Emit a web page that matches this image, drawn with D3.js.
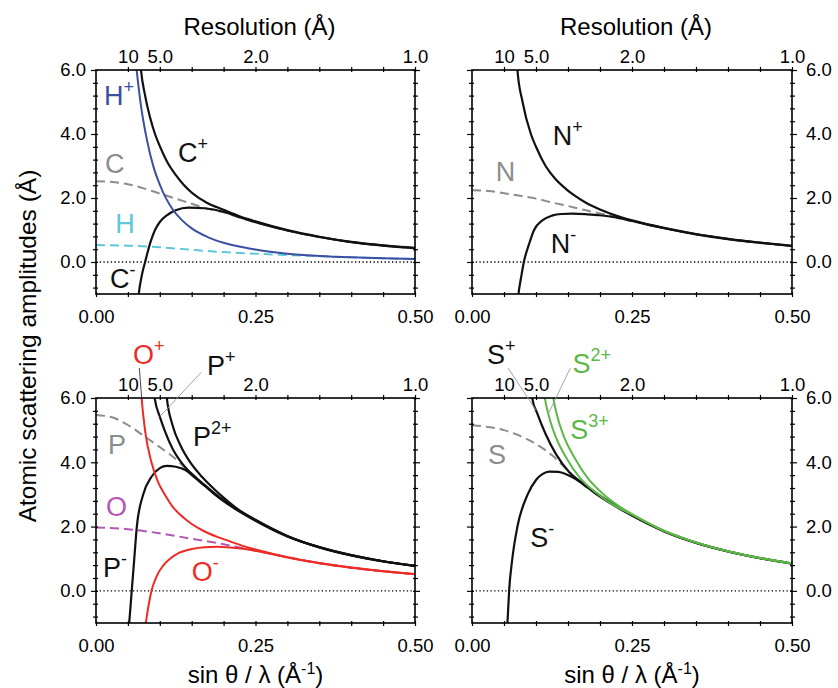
<!DOCTYPE html>
<html>
<head>
<meta charset="utf-8">
<script src="https://cdn.jsdelivr.net/npm/d3@7"></script>
<style>
body{margin:0;background:#fff;}
svg{display:block;font-family:"Liberation Sans",Arial,Helvetica,sans-serif;}
</style>
</head>
<body>
<script>
// ---- values: [sin(theta)/lambda, amplitude] ----
var H_neu = [[0,0.53],[0.05,0.51],[0.1,0.46],[0.15,0.38],[0.2,0.31],[0.25,0.26],[0.3,0.22],[0.35,0.18],[0.4,0.145],[0.45,0.115],[0.5,0.095]];
var H_plus = [[0.06,6.7],[0.0637,6.0],[0.07,4.95],[0.08,3.8],[0.09,2.98],[0.1,2.42],[0.11,1.98],[0.12,1.65],[0.135,1.3],[0.15,1.05],[0.175,0.78],[0.2,0.6],[0.25,0.39],[0.3,0.26],[0.35,0.19],[0.4,0.145],[0.45,0.115],[0.5,0.095]];
var C_neu = [[0,2.52],[0.025,2.5],[0.05,2.43],[0.075,2.3],[0.1,2.14],[0.125,1.98],[0.15,1.82],[0.175,1.66],[0.2,1.55],[0.225,1.39],[0.25,1.24],[0.3,0.98],[0.35,0.78],[0.4,0.62],[0.45,0.51],[0.5,0.43]];
var C_plus = [[0.068,6.6],[0.0705,6.0],[0.077,5.2],[0.085,4.5],[0.0925,4.0],[0.1,3.62],[0.111,3.15],[0.125,2.72],[0.137,2.42],[0.15,2.17],[0.173,1.86],[0.2,1.63],[0.225,1.43],[0.25,1.27],[0.3,0.995],[0.35,0.79],[0.4,0.63],[0.45,0.52],[0.5,0.44]];
var C_minus = [[0.0655,-1.3],[0.067,-1.0],[0.072,-0.4],[0.077,0.0],[0.085,0.6],[0.0925,1.0],[0.1,1.25],[0.111,1.46],[0.125,1.62],[0.145,1.7],[0.17,1.68],[0.2,1.57],[0.225,1.4],[0.25,1.245],[0.3,0.985],[0.35,0.78],[0.4,0.62],[0.45,0.51],[0.5,0.43]];

var N_neu = [[0,2.24],[0.025,2.22],[0.05,2.15],[0.075,2.07],[0.1,1.98],[0.125,1.86],[0.15,1.75],[0.175,1.63],[0.2,1.52],[0.225,1.42],[0.25,1.29],[0.3,1.06],[0.35,0.87],[0.4,0.72],[0.45,0.6],[0.5,0.5]];
var N_plus = [[0.069,6.6],[0.071,6.0],[0.079,5.0],[0.092,4.0],[0.1,3.6],[0.115,3.0],[0.13,2.6],[0.147,2.28],[0.16,2.08],[0.178,1.85],[0.2,1.64],[0.225,1.45],[0.25,1.3],[0.3,1.065],[0.35,0.875],[0.4,0.725],[0.45,0.605],[0.5,0.505]];
var N_minus = [[0.071,-1.3],[0.0726,-1.0],[0.077,-0.45],[0.081,0.0],[0.089,0.55],[0.097,1.0],[0.11,1.3],[0.125,1.45],[0.14,1.5],[0.157,1.51],[0.18,1.49],[0.2,1.46],[0.225,1.39],[0.25,1.28],[0.3,1.055],[0.35,0.865],[0.4,0.715],[0.45,0.6],[0.5,0.5]];

var P_neu = [[0,5.47],[0.025,5.4],[0.05,5.16],[0.075,4.82],[0.1,4.47],[0.125,4.1],[0.14,3.82],[0.155,3.56],[0.17,3.29],[0.185,3.03],[0.2,2.8],[0.25,2.19],[0.3,1.7],[0.35,1.36],[0.4,1.11],[0.45,0.92],[0.5,0.78]];
var P_minus = [[0.0505,-1.3],[0.052,-1.0],[0.056,0.0],[0.06,1.0],[0.064,2.0],[0.074,3.0],[0.087,3.55],[0.1,3.82],[0.111,3.89],[0.125,3.86],[0.14,3.76],[0.155,3.52],[0.17,3.27],[0.185,3.02],[0.2,2.79],[0.25,2.18],[0.3,1.69],[0.35,1.35],[0.4,1.1],[0.45,0.915],[0.5,0.775]];
var P_plus = [[0.089,6.5],[0.092,6.0],[0.1,5.42],[0.108,4.97],[0.12,4.42],[0.134,3.99],[0.15,3.64],[0.17,3.3],[0.185,3.05],[0.2,2.82],[0.25,2.2],[0.3,1.7],[0.35,1.36],[0.4,1.11],[0.45,0.92],[0.5,0.78]];
var P_2plus = [[0.109,6.4],[0.111,6.0],[0.12,5.15],[0.133,4.5],[0.147,4.02],[0.166,3.55],[0.185,3.17],[0.2,2.9],[0.225,2.5],[0.25,2.21],[0.3,1.71],[0.35,1.36],[0.4,1.11],[0.45,0.92],[0.5,0.78]];
var O_neu = [[0,1.97],[0.05,1.92],[0.1,1.79],[0.15,1.62],[0.2,1.45],[0.25,1.25],[0.3,1.05],[0.35,0.86],[0.4,0.72],[0.45,0.61],[0.5,0.52]];
var O_plus = [[0.0695,6.6],[0.0715,6.0],[0.077,4.98],[0.087,3.99],[0.097,3.4],[0.108,2.99],[0.12,2.62],[0.137,2.28],[0.15,2.08],[0.168,1.87],[0.19,1.68],[0.21,1.54],[0.23,1.4],[0.25,1.29],[0.3,1.05],[0.35,0.865],[0.4,0.725],[0.45,0.612],[0.5,0.522]];
var O_minus = [[0.0755,-1.3],[0.078,-1.0],[0.082,-0.5],[0.087,0.0],[0.095,0.45],[0.105,0.78],[0.116,1.0],[0.13,1.18],[0.15,1.3],[0.17,1.36],[0.19,1.37],[0.21,1.35],[0.23,1.31],[0.25,1.25],[0.3,1.04],[0.35,0.86],[0.4,0.72],[0.45,0.61],[0.5,0.52]];

var S_neu = [[0,5.15],[0.025,5.1],[0.05,5.0],[0.075,4.82],[0.1,4.57],[0.126,4.2],[0.147,3.8],[0.16,3.55],[0.18,3.25],[0.2,2.95],[0.25,2.35],[0.3,1.86],[0.35,1.5],[0.4,1.23],[0.45,1.02],[0.5,0.85]];
var S_minus = [[0.0545,-1.3],[0.0554,-1.0],[0.058,0.0],[0.063,1.0],[0.071,2.0],[0.087,3.0],[0.1,3.45],[0.11,3.63],[0.1206,3.71],[0.135,3.7],[0.147,3.63],[0.16,3.5],[0.18,3.22],[0.2,2.93],[0.25,2.34],[0.3,1.85],[0.35,1.49],[0.4,1.225],[0.45,1.015],[0.5,0.845]];
var S_plus = [[0.092,6.4],[0.094,6.0],[0.1024,5.5],[0.115,4.88],[0.131,4.26],[0.152,3.69],[0.178,3.28],[0.2,2.96],[0.25,2.35],[0.3,1.86],[0.35,1.5],[0.4,1.23],[0.45,1.02],[0.5,0.85]];
var S_2plus = [[0.111,6.4],[0.1138,6.0],[0.1206,5.4],[0.131,4.78],[0.147,4.15],[0.168,3.53],[0.194,3.05],[0.22,2.68],[0.25,2.37],[0.3,1.865],[0.35,1.5],[0.4,1.23],[0.45,1.02],[0.5,0.85]];
var S_3plus = [[0.124,6.4],[0.127,6.0],[0.1337,5.4],[0.144,4.78],[0.16,4.15],[0.18,3.53],[0.204,3.03],[0.23,2.63],[0.26,2.28],[0.3,1.87],[0.35,1.505],[0.4,1.232],[0.45,1.022],[0.5,0.852]];

// axis ticks
var sTicks = [0,0.05,0.1,0.15,0.2,0.25,0.3,0.35,0.4,0.45,0.5];
var sLabels = [0,0.25,0.5];
var resTicks = [10,5,2,1];          // resolution (A), s = 1/(2d)
var resLabels = ["10","5.0","2.0","1.0"];
var yLabels = [0,2,4,6];

var BLACK="#111", GRAY="#8c8c8c", BLUE="#3b4fa3", CYAN="#5ec8da", RED="#ee2a24", MAG="#b456b4", GREEN="#5cb846";

var W=838, H=688;
var svg=d3.select("body").append("svg").attr("width",W).attr("height",H);

var panels=[
 {x0:96,x1:415,y0:70,y1:294,side:"left",title:true,
  series:[
   {d:C_neu,c:GRAY,dash:true},{d:H_neu,c:CYAN,dash:true},
   {d:C_plus,c:BLACK},{d:C_minus,c:BLACK},{d:H_plus,c:BLUE}],
  labels:[
   {t:"H",sup:"+",s:0.0125,v:4.9,c:BLUE},{t:"C",sup:"+",s:0.1285,v:3.12,c:BLACK},
   {t:"C",s:0.014,v:2.78,c:GRAY},{t:"H",s:0.03,v:0.9,c:CYAN},
   {t:"C",sup:"-",s:0.022,v:-0.81,c:BLACK}],
  leaders:[]},
 {x0:472,x1:792,y0:70,y1:294,side:"right",title:true,
  series:[{d:N_neu,c:GRAY,dash:true},{d:N_plus,c:BLACK},{d:N_minus,c:BLACK}],
  labels:[
   {t:"N",sup:"+",s:0.126,v:3.66,c:BLACK},{t:"N",s:0.037,v:2.53,c:GRAY},
   {t:"N",sup:"-",s:0.123,v:0.28,c:BLACK}],
  leaders:[]},
 {x0:96,x1:415,y0:398,y1:623,side:"left",title:false,
  series:[
   {d:P_neu,c:GRAY,dash:true},{d:O_neu,c:MAG,dash:true},
   {d:P_minus,c:BLACK},{d:P_plus,c:BLACK},{d:P_2plus,c:BLACK},
   {d:O_plus,c:RED},{d:O_minus,c:RED}],
  labels:[
   {t:"O",sup:"+",s:0.058,v:7.07,c:RED},{t:"P",sup:"+",s:0.174,v:6.73,c:BLACK},
   {t:"P",sup:"2+",s:0.152,v:4.52,c:BLACK},{t:"P",s:0.0188,v:4.27,c:GRAY},
   {t:"O",s:0.0157,v:2.34,c:MAG},{t:"P",sup:"-",s:0.011,v:0.44,c:BLACK},
   {t:"O",sup:"-",s:0.15,v:0.31,c:RED}],
  leaders:[
   {a:[0.0679,6.93],b:[0.0716,6.0],c:"#333"},
   {a:[0.165,6.8],b:[0.1,5.42],c:"#999"}]},
 {x0:472,x1:792,y0:398,y1:623,side:"right",title:false,
  series:[
   {d:S_neu,c:GRAY,dash:true},{d:S_minus,c:BLACK},{d:S_plus,c:BLACK},
   {d:S_2plus,c:GREEN},{d:S_3plus,c:GREEN}],
  labels:[
   {t:"S",sup:"+",s:0.0235,v:7.07,c:BLACK},{t:"S",sup:"2+",s:0.157,v:6.79,c:GREEN},
   {t:"S",sup:"3+",s:0.1536,v:4.74,c:GREEN},{t:"S",s:0.025,v:3.96,c:GRAY},
   {t:"S",sup:"-",s:0.091,v:1.37,c:BLACK}],
  leaders:[
   {a:[0.0564,6.93],b:[0.1,5.62],c:"#999"},
   {a:[0.1536,6.93],b:[0.119,5.5],c:"#999"}]}
];

panels.forEach(function(p,k){
  var x=d3.scaleLinear().domain([0,0.5]).range([p.x0,p.x1]);
  var y=d3.scaleLinear().domain([-1,6]).range([p.y1,p.y0]);
  var g=svg.append("g");

  svg.append("clipPath").attr("id","clip"+k).append("rect")
    .attr("x",p.x0).attr("y",p.y0).attr("width",p.x1-p.x0).attr("height",p.y1-p.y0);

  var plot=g.append("g").attr("clip-path","url(#clip"+k+")");

  // zero line
  plot.append("line")
    .attr("x1",x(0)).attr("x2",x(0.5)).attr("y1",y(0)).attr("y2",y(0))
    .attr("stroke","#000").attr("stroke-width",1.3).attr("stroke-dasharray","1.3,2.4");

  var line=d3.line().x(function(d){return x(d[0]);}).y(function(d){return y(d[1]);})
    .curve(d3.curveMonotoneX);

  plot.selectAll("path.curve").data(p.series).enter().append("path")
    .attr("class","curve")
    .attr("d",function(d){return line(d.d);})
    .attr("fill","none")
    .attr("stroke",function(d){return d.c;})
    .attr("stroke-width",function(d){return d.c==BLACK?2.2:2;})
    .attr("stroke-dasharray",function(d){return d.dash?"9,5":null;});

  // frame
  g.append("rect").attr("x",p.x0).attr("y",p.y0)
    .attr("width",p.x1-p.x0).attr("height",p.y1-p.y0)
    .attr("fill","none").attr("stroke","#000").attr("stroke-width",1.6);

  // bottom axis
  var ab=g.append("g").attr("transform","translate(0,"+p.y1+")")
    .call(d3.axisBottom(x).tickValues(sTicks).tickSizeOuter(0).tickSize(3)
      .tickFormat(function(d){return sLabels.indexOf(d)>=0?d3.format(".2f")(d):"";}));
  // top axis (resolution)
  var resS=resTicks.map(function(d){return 1/(2*d);});
  var at=g.append("g").attr("transform","translate(0,"+p.y0+")")
    .call(d3.axisTop(x).tickValues(sTicks.slice(1)).tickSizeOuter(0).tickSize(3)
      .tickFormat(function(d){
        var i=resS.findIndex(function(r){return Math.abs(r-d)<1e-9;});
        return i>=0?resLabels[i]:"";}));
  // left & right axes
  var yTicks=d3.range(-2,16).map(function(i){return +(i*0.4).toFixed(1);});
  var yFmt=function(d){return yLabels.indexOf(d)>=0?d3.format(".1f")(d):"";};
  var al=g.append("g").attr("transform","translate("+p.x0+",0)")
    .call(d3.axisLeft(y).tickValues(yTicks).tickSizeOuter(0).tickSize(3)
      .tickFormat(p.side=="left"?yFmt:function(){return "";}));
  var ar=g.append("g").attr("transform","translate("+p.x1+",0)")
    .call(d3.axisRight(y).tickValues(yTicks).tickSizeOuter(0).tickSize(3)
      .tickFormat(p.side=="right"?yFmt:function(){return "";}));

  [ab,at,al,ar].forEach(function(a){
    a.select(".domain").remove();
    a.selectAll(".tick line").attr("stroke","#000").attr("stroke-width",1.2);
    a.selectAll("text").attr("font-size",18.5).attr("fill","#000")
      .attr("font-family","'Liberation Sans',Arial,Helvetica,sans-serif");
  });
  ab.selectAll(".tick line").attr("y1",-2).attr("y2",3);
  at.selectAll(".tick line").attr("y1",2).attr("y2",-3);
  al.selectAll(".tick line").attr("x1",2).attr("x2",function(d){return yLabels.indexOf(d)>=0?-5:-3;});
  ar.selectAll(".tick line").attr("x1",-2).attr("x2",function(d){return yLabels.indexOf(d)>=0?5:3;});
  ab.selectAll("text").attr("y",16);
  at.selectAll("text").attr("y",-7);
  al.selectAll("text").attr("x",-10);
  ar.selectAll("text").attr("x",14);

  // curve labels
  p.labels.forEach(function(l){
    var t=g.append("text").attr("x",x(l.s)).attr("y",y(l.v))
      .attr("font-size",27).attr("fill",l.c).text(l.t);
    if(l.sup) t.append("tspan").attr("dy",-12).attr("font-size",18).text(l.sup);
  });
  p.leaders.forEach(function(l){
    g.append("line").attr("x1",x(l.a[0])).attr("y1",y(l.a[1]))
      .attr("x2",x(l.b[0])).attr("y2",y(l.b[1]))
      .attr("stroke",l.c).attr("stroke-width",0.9);
  });

  if(p.title){
    g.append("text").attr("x",(p.x0+p.x1)/2+4).attr("y",35)
      .attr("text-anchor","middle").attr("font-size",24).text("Resolution (Å)");
  } else {
    var xl=g.append("text").attr("x",(p.x0+p.x1)/2).attr("y",683)
      .attr("text-anchor","middle").attr("font-size",24);
    xl.append("tspan").text("sin θ / λ (Å");
    xl.append("tspan").attr("dy",-9).attr("font-size",16).text("-1");
    xl.append("tspan").attr("dy",9).text(")");
  }
});

svg.append("text").attr("transform","translate(36,346) rotate(-90)")
  .attr("text-anchor","middle").attr("font-size",24.5)
  .text("Atomic scattering amplitudes (Å)");
</script>
</body>
</html>
